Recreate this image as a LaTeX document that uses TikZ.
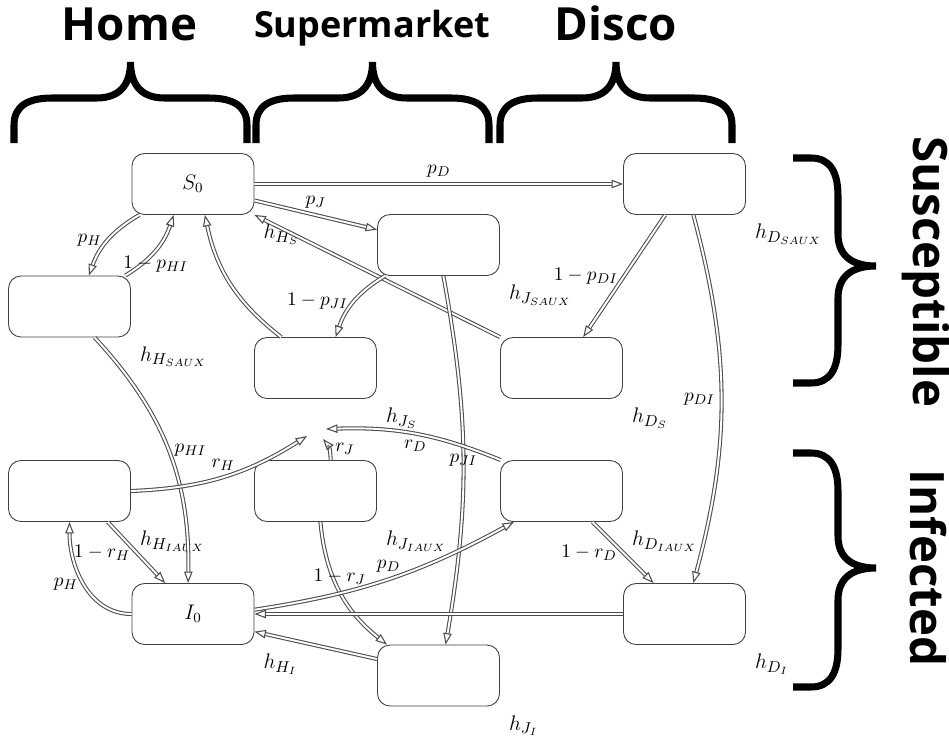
\documentclass[tikz,border=0pt]{standalone}
\usepackage{fontspec}
\newfontfamily\headfont{Open Sans}
\usetikzlibrary{arrows.meta}

\begin{document}
\begin{tikzpicture}[x=0.2mm,y=0.2mm,
  font=\fontsize{11}{13}\selectfont,
  state/.style={draw=black!75,line width=0.5pt,rounded corners=2.5mm,minimum width=24.4mm,minimum height=12.2mm},
  hlabel/.style={anchor=north west,inner sep=5pt,font=\fontsize{13}{15}\selectfont},
  flow/.style={draw=black!70,line width=0.6pt,double,double distance=1.1pt,-{Triangle[open,length=6.5pt,width=4.8pt]}},
  curly/.style={line width=4pt},
  title/.style={font=\headfont\bfseries\fontsize{26}{30}\selectfont}]
\useasboundingbox (0,0) rectangle (949,-741);

\node[state] (S0) at (193,-184) {\large $S_0$};
\node[state] (HSaux) at (69.5,-306.5) {};
\node[state] (JS) at (438.5,-245) {};
\node[state] (JSaux) at (315.5,-368) {};
\node[state] (DS) at (684.5,-184) {};
\node[state] (DSaux) at (561.5,-368) {};
\node[state] (HIaux) at (69.5,-491) {};
\node[state] (JIaux) at (315.5,-491) {};
\node[state] (DIaux) at (561.5,-491) {};
\node[state] (I0) at (193,-614) {\large $I_0$};
\node[state] (DI) at (684.5,-614) {};
\node[state] (JI) at (438.5,-675.5) {};

\node[hlabel] (hHS) at (S0.south east) {$h_{H_S}$};
\node[hlabel] (hHSaux) at (HSaux.south east) {$h_{H_{SAUX}}$};
\node[hlabel] (hJSaux) at (JS.south east) {$h_{J_{SAUX}}$};
\node[hlabel] (hJS) at (JSaux.south east) {$h_{J_S}$};
\node[hlabel] (hDSaux) at (DS.south east) {$h_{D_{SAUX}}$};
\node[hlabel] (hDS) at (DSaux.south east) {$h_{D_S}$};
\node[hlabel] (hHIaux) at (HIaux.south east) {$h_{H_{IAUX}}$};
\node[hlabel] (hJIaux) at (JIaux.south east) {$h_{J_{IAUX}}$};
\node[hlabel] (hDIaux) at (DIaux.south east) {$h_{D_{IAUX}}$};
\node[hlabel] (hHI) at (I0.south east) {$h_{H_I}$};
\node[hlabel] (hDI) at (DI.south east) {$h_{D_I}$};
\node[hlabel] (hJI) at (JI.south east) {$h_{J_I}$};

\coordinate (rH) at (307,-436);
\coordinate (rJ) at (323,-439);
\coordinate (rD) at (326,-429);

\draw[flow] (S0) -- node[above] {$p_D$} (DS);
\draw[flow] (S0.345) -- node[above] {$p_J$} (JS.166);
\draw[flow] (S0.210) to[bend right=20] node[left] {$p_H$} (HSaux.58);
\draw[flow] (HSaux.29) to[bend right=20] node[below] {$1-p_{HI}$} (S0.238);
\draw[flow] (JSaux.138) to[bend left=20] (S0.291);
\draw[flow] (DSaux.north west) -- (S0.south east);
\draw[flow] (JS.210) to[bend right=20] node[left] {$1-p_{JI}$} (JSaux.57);
\draw[flow] (JS.279) to[bend left=10] node {$p_{JI}$} (JI.77);
\draw[flow] (DS.238) -- node[left] {$1-p_{DI}$} (DSaux.55);
\draw[flow] (DS.286) to[bend left=15] node[left] {$p_{DI}$} (DI.74);
\draw[flow] (HSaux.309) to[bend left=22] node[right] {$p_{HI}$} (I0.99);
\draw[flow] (HIaux.east) to[bend right=15] node[above] {$r_H$} (rH);
\draw[flow] (JIaux.64) to[bend right=20] node[right] {$r_J$} (rJ);
\draw[flow] (DIaux.153) to[bend right=12] node[below] {$r_D$} (rD);
\draw[flow] (HIaux.321) -- node[left] {$1-r_H$} (I0.132);
\draw[flow] (I0.west) to[out=180,in=-90] node[left] {$p_H$} (HIaux.south);
\draw[flow] (JIaux.279) to[bend right=23] node[above] {$1-r_J$} (JI.149);
\draw[flow] (I0.4) to[bend right=10] node[above] {$p_D$} (DIaux.213);
\draw[flow] (DI) -- (I0);
\draw[flow] (JI.165) -- (I0.344);
\draw[flow] (DIaux.315) -- node[left] {$1-r_D$} (DI.135);

\foreach \a/\m/\b in {14/130.5/247, 256/372.5/489, 500/616/732}
  \draw[curly] (\a,-143) -- (\a,-125) .. controls (\a,-106) and (\a+14,-98) .. (\a+38,-98)
    -- (\m-34,-98) .. controls (\m-12,-98) and (\m,-86) .. (\m,-62)
    .. controls (\m,-86) and (\m+12,-98) .. (\m+34,-98)
    -- (\b-38,-98) .. controls (\b-14,-98) and (\b,-106) .. (\b,-125) -- (\b,-143);
\foreach \a/\m/\b in {-158/-266/-383, -453/-568/-687}
  \draw[curly] (793,\a) -- (811,\a) .. controls (830,\a) and (838,\a-14) .. (838,\a-38)
    -- (838,\m+32) .. controls (838,\m+12) and (850,\m) .. (876,\m)
    .. controls (850,\m) and (838,\m-12) .. (838,\m-32)
    -- (838,\b+38) .. controls (838,\b+14) and (830,\b) .. (811,\b) -- (793,\b);

\node[title,anchor=base] (home) at (129.5,-40) {Home};
\node[title,anchor=base,font=\headfont\bfseries\fontsize{20.5}{24}\selectfont] (market) at (372,-37) {Supermarket};
\node[title,anchor=base] (disco) at (616,-40) {Disco};
\node[title,rotate=-90,font=\headfont\bfseries\fontsize{27}{31}\selectfont] (sus) at (926,-272) {Susceptible};
\node[title,rotate=-90,font=\headfont\bfseries\fontsize{27}{31}\selectfont] (inf) at (928,-568) {Infected};
\end{tikzpicture}
\end{document}
